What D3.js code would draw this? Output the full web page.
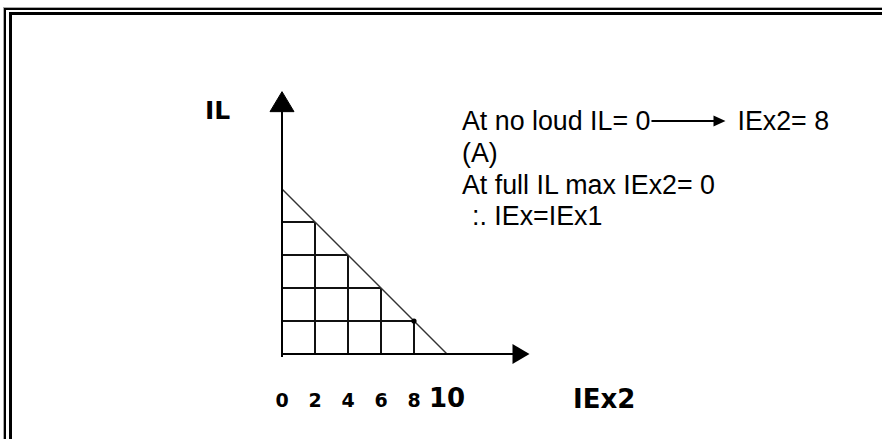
<!DOCTYPE html>
<html>
<head>
<meta charset="utf-8">
<script src="https://cdn.jsdelivr.net/npm/d3@7"></script>
<style>
  html, body { margin: 0; padding: 0; background: #fff; }
  svg { display: block; }
</style>
</head>
<body>
<script>
// Tick values and labels along the IEx2 axis
const xTickValues = [0, 2, 4, 6, 8, 10];
const xTickLabels = ["0", "2", "4", "6", "8", "10"];
// Staircase grid under the load line: corner points (IEx2, IL)
const stepIEx2 = [2, 4, 6, 8];
const stepIL = [8, 6, 4, 2];
// Load line end points
const lineIEx2 = [0, 10];
const lineIL = [10, 0];
// Marked operating point
const pointIEx2 = [8];
const pointIL = [2];
// How far the axes reach (in axis units)
const axisMaxIEx2 = 15;
const axisMaxIL = 15.9;
// Annotation text
const noteLeft = "At no loud IL= 0";
const noteRight = "IEx2= 8";
const noteLines = ["(A)", "At full IL max IEx2= 0", ":. IEx=IEx1"];

const W = 882, H = 439;
const svg = d3.select("body").append("svg").attr("width", W).attr("height", H);
svg.append("rect").attr("width", W).attr("height", H).attr("fill", "#fff");

// Double page frame (runs off the right and bottom edges)
svg.append("rect").attr("x", 3.5).attr("y", 7.5).attr("width", 2000).attr("height", 2000)
  .attr("fill", "none").attr("stroke", "#aaa").attr("stroke-width", 1);
svg.append("rect").attr("x", 5).attr("y", 9).attr("width", 2000).attr("height", 2000)
  .attr("fill", "none").attr("stroke", "#000").attr("stroke-width", 2);
svg.append("rect").attr("x", 10.5).attr("y", 13.5).attr("width", 2000).attr("height", 2000)
  .attr("fill", "none").attr("stroke", "#000").attr("stroke-width", 3);

const x = d3.scaleLinear().domain([0, 10]).range([282, 447]);
const y = d3.scaleLinear().domain([0, 10]).range([354, 189]);

const g = svg.append("g");

// Staircase grid
const steps = stepIEx2.map((v, i) => ({ ex: v, il: stepIL[i] }));
g.selectAll("line.h").data(steps).enter().append("line")
  .attr("class", "h")
  .attr("x1", x(0)).attr("x2", d => x(d.ex))
  .attr("y1", d => y(d.il)).attr("y2", d => y(d.il))
  .attr("stroke", "#111").attr("stroke-width", 2);
g.selectAll("line.v").data(steps).enter().append("line")
  .attr("class", "v")
  .attr("x1", d => x(d.ex)).attr("x2", d => x(d.ex))
  .attr("y1", y(0)).attr("y2", d => y(d.il))
  .attr("stroke", "#111").attr("stroke-width", 2);

// Load line
g.append("path")
  .datum(lineIEx2.map((v, i) => [v, lineIL[i]]))
  .attr("d", d3.line().x(d => x(d[0])).y(d => y(d[1])))
  .attr("fill", "none").attr("stroke", "#333").attr("stroke-width", 1.4);

// Operating point
g.selectAll("circle.pt").data(pointIEx2.map((v, i) => [v, pointIL[i]])).enter()
  .append("circle").attr("class", "pt")
  .attr("cx", d => x(d[0])).attr("cy", d => y(d[1])).attr("r", 2.6).attr("fill", "#000");

// Axes with arrowheads
const xEnd = x(axisMaxIEx2), yEnd = y(axisMaxIL);
g.append("line").attr("x1", x(0)).attr("x2", xEnd - 12).attr("y1", y(0)).attr("y2", y(0))
  .attr("stroke", "#000").attr("stroke-width", 2);
g.append("line").attr("x1", x(0)).attr("x2", x(0)).attr("y1", y(0) + 3).attr("y2", yEnd + 14)
  .attr("stroke", "#000").attr("stroke-width", 2);
g.append("path")
  .attr("d", `M${xEnd},${y(0)} L${xEnd - 17},${y(0) - 10} L${xEnd - 17},${y(0) + 10} Z`)
  .attr("fill", "#000");
g.append("path")
  .attr("d", `M${x(0)},${yEnd} L${x(0) + 12},${yEnd + 20} L${x(0) - 12},${yEnd + 20} Z`)
  .attr("fill", "#000").attr("stroke", "#000").attr("stroke-width", 1).attr("stroke-linejoin", "round");

// Tick labels
const bold = "'DejaVu Sans', Verdana, sans-serif";
g.selectAll("text.tick").data(xTickValues).enter().append("text")
  .attr("class", "tick")
  .attr("x", d => x(d)).attr("y", 407)
  .attr("text-anchor", "middle")
  .attr("font-family", bold).attr("font-weight", "bold")
  .attr("font-size", d => d === 10 ? 26 : 19)
  .text((d, i) => xTickLabels[i]);

// Axis titles
svg.append("text").attr("x", 573).attr("y", 408)
  .attr("font-family", bold).attr("font-weight", "bold").attr("font-size", 26)
  .text("IEx2");
svg.append("text").attr("x", 205).attr("y", 119)
  .attr("font-family", bold).attr("font-weight", "bold").attr("font-size", 25)
  .text("IL");

// Annotation
const note = svg.append("g")
  .attr("font-family", "'Liberation Sans', Arial, sans-serif").attr("font-size", 26.8).attr("fill", "#000");
const t1 = note.append("text").attr("x", 462).attr("y", 130).text(noteLeft);
const a0 = 462 + t1.node().getComputedTextLength() + 1;
const a1 = a0 + 74;
note.append("line").attr("x1", a0).attr("x2", a1 - 10).attr("y1", 121).attr("y2", 121)
  .attr("stroke", "#000").attr("stroke-width", 2);
note.append("path").attr("d", `M${a1},121 L${a1 - 12},115.5 L${a1 - 12},126.5 Z`).attr("fill", "#000");
note.append("text").attr("x", a1 + 12).attr("y", 130).text(noteRight);
note.selectAll("text.line").data(noteLines).enter().append("text")
  .attr("class", "line")
  .attr("x", (d, i) => i === 2 ? 472 : 462)
  .attr("y", (d, i) => 162 + i * 31.5)
  .text(d => d);
</script>
</body>
</html>
